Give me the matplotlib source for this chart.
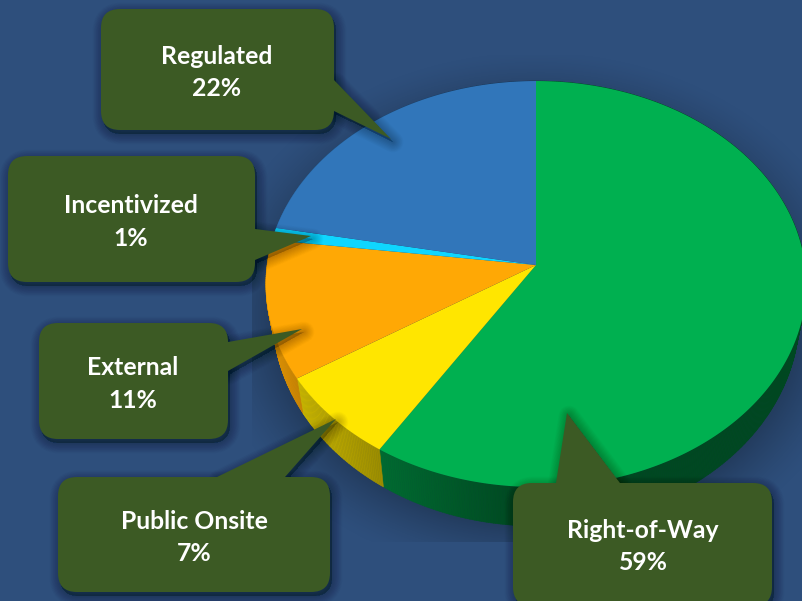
import numpy as np
import matplotlib
matplotlib.use("Agg")
import matplotlib.pyplot as plt
from matplotlib.patches import FancyBboxPatch, Polygon
from matplotlib.collections import PolyCollection

# Shares, clockwise from twelve o'clock
categories = ["Right-of-Way", "Public Onsite", "External", "Incentivized", "Regulated"]
shares = [59, 7, 11, 1, 22]
slice_colors = ["#00b050", "#ffe600", "#ffa805", "#0fd6ff", "#3176ba"]

BACKGROUND = "#2e4f7c"
CALLOUT = "#3c5a24"

# Callout boxes (left, top, right, bottom), tail base points and tail tip, in pixels
callout_boxes = [(513, 483, 772, 606), (58, 477, 330, 592), (39, 323, 228, 439),
                 (8, 156, 255, 282), (101, 9, 334, 130)]
callout_tails = [((556, 483), (620, 483), (567, 413)),
                 ((217, 477), (285, 477), (336, 419)),
                 ((228, 342), (228, 371), (302, 329)),
                 ((255, 229), (255, 260), (311, 236)),
                 ((334, 80), (334, 111), (391, 139))]
label_rows = [(530.5, 562.5), (521.5, 553.5), (367.5, 400.5), (205.5, 238.5), (56.5, 88.5)]
label_x = [643, 194, 133, 131, 217]

# Tilted-disc projection of the unit circle onto the page
APEX_X, APEX_Y = 536.0, 265.0
SCALE_X, SCALE_Y, TILT = 269.0, 201.2, 0.0936


def top_rim(theta):
    u, v = np.sin(theta), -np.cos(theta)
    w = 1 - TILT * v
    return APEX_X + SCALE_X * u / w, APEX_Y + SCALE_Y * v / w


def bottom_rim(theta):
    x, y = top_rim(theta)
    return APEX_X + (x - APEX_X) * 0.975, 1.04 * y + 19.5


plt.rcParams["font.family"] = ["Lato", "DejaVu Sans"]
fig = plt.figure(figsize=(8.02, 6.01), dpi=100, facecolor=BACKGROUND)
ax = fig.add_axes([0, 0, 1, 1])
ax.set_facecolor(BACKGROUND)
ax.set_xlim(0, 802)
ax.set_ylim(601, 0)
ax.axis("off")

# Soft shadow cast by the disc on the backdrop
gx, gy = np.meshgrid(np.arange(802) + 0.5, np.arange(601) + 0.5)
radial = np.hypot((gx - 536) / 263, (gy - 315) / 211)
falloff = np.clip(1 - (radial - 1) * 230 / 60, 0, 1) ** 1.5
falloff[(gx < 252) | (gy > 542) | (gy < 55)] = 0
shade = np.zeros((601, 802, 4))
shade[..., 3] = 0.24 * falloff
ax.imshow(shade, extent=(0, 802, 601, 0), aspect="auto", zorder=1, interpolation="bilinear")
ax.set_xlim(0, 802)
ax.set_ylim(601, 0)

# Side wall and top face of every slice
edges = np.cumsum([0] + shares) / sum(shares) * 2 * np.pi
for start, stop, color in zip(edges[:-1], edges[1:], slice_colors):
    steps = max(int((stop - start) * 120), 4)
    thetas = np.linspace(start, stop, steps + 1)
    tx, ty = top_rim(thetas)
    bx, by = bottom_rim(thetas)
    rgb = np.array(matplotlib.colors.to_rgb(color))
    quads, tones = [], []
    for i in range(steps):
        quads.append([(tx[i], ty[i]), (tx[i + 1], ty[i + 1]), (bx[i + 1], by[i + 1]), (bx[i], by[i])])
        tones.append(rgb * np.interp(tx[i], [270, 385, 520], [0.85, 0.6, 0.41]))
    ax.add_collection(PolyCollection(quads, facecolors=tones, edgecolors=tones, linewidths=0.4, zorder=2))

for start, stop, color in zip(edges[:-1], edges[1:], slice_colors):
    thetas = np.linspace(start, stop, 240)
    tx, ty = top_rim(thetas)
    outline = np.column_stack([np.r_[APEX_X, tx], np.r_[APEX_Y, ty]])
    ax.add_patch(Polygon(outline, closed=True, facecolor=color, edgecolor="none", zorder=3))


def box_patch(box, **kw):
    left, top, right, bottom = box
    pad = 18
    return FancyBboxPatch((left + pad, top + pad), right - left - 2 * pad, bottom - top - 2 * pad,
                          boxstyle=f"round,pad={pad},rounding_size={pad + 1}", **kw)


# Callouts: blurred drop shadow built from stacked strokes, then box, tail and text
for box, tail, rows, x, name, share in zip(callout_boxes, callout_tails, label_rows, label_x, categories, shares):
    for lw in np.arange(15, 0, -1.0):
        style = dict(facecolor=(0, 0, 0, 0.016), edgecolor=(0, 0, 0, 0.016), linewidth=lw,
                     joinstyle="round", zorder=4)
        shifted = [(px + 2, py + 3) for px, py in tail]
        ax.add_patch(Polygon(shifted, closed=True, **style))
        ax.add_patch(box_patch((box[0] + 2, box[1] + 4, box[2] + 2, box[3] + 4), **style))
    ax.add_patch(Polygon(tail, closed=True, facecolor=CALLOUT, edgecolor="none", zorder=5))
    ax.add_patch(box_patch(box, facecolor=CALLOUT, edgecolor="none", zorder=5))
    for y, text in zip(rows, (name, f"{share}%")):
        ax.text(x, y, text, color="white", fontsize=17.8, fontweight="bold",
                ha="center", va="center", zorder=6)

fig.savefig("out.png", dpi=100, facecolor=BACKGROUND)
